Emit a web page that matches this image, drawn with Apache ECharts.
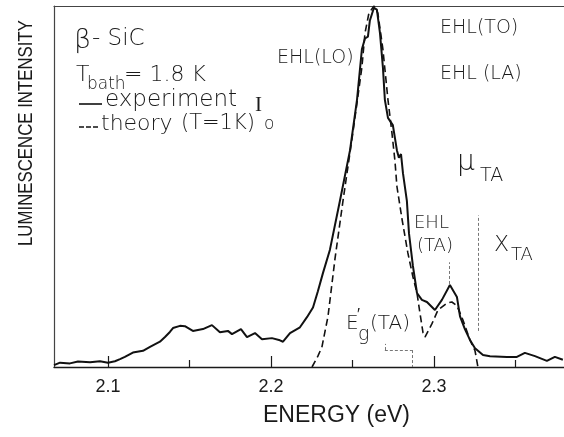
<!DOCTYPE html>
<html>
<head>
<meta charset="utf-8">
<script src="https://cdn.jsdelivr.net/npm/echarts@6/dist/echarts.min.js"></script>
<style>
	html, body { margin: 0; padding: 0; background: #fff; }
	#chart { width: 564px; height: 437px; }
</style>
</head>
<body>
<div id="chart"></div>
<script>
// energy range of the plot (eV)
var xMin = 2.0669;
var xMax = 2.3798;
var majorTicks = [2.1, 2.2, 2.3];
var minorTicks = [2.15, 2.25, 2.35];

// experiment I0, [energy eV, intensity a.u.]
var experiment = [
	[2.0669, 0.5], [2.0706, 1.2], [2.0767, 1.0], [2.0816, 1.5], [2.0890, 1.3],
	[2.0951, 1.6], [2.1000, 1.2], [2.1043, 1.6], [2.1074, 2.2], [2.1104, 2.8],
	[2.1153, 4.0], [2.1215, 4.5], [2.1258, 5.6], [2.1319, 7.0], [2.1350, 8.3],
	[2.1380, 9.7], [2.1399, 10.8], [2.1442, 11.4], [2.1472, 11.3], [2.1521, 10.0],
	[2.1583, 10.5], [2.1638, 11.6], [2.1687, 9.6], [2.1736, 10.0], [2.1761, 9.1],
	[2.1816, 10.5], [2.1853, 8.3], [2.1902, 9.4], [2.1945, 7.7], [2.2006, 8.0],
	[2.2055, 7.4], [2.2074, 7.0], [2.2117, 9.4], [2.2178, 11.0], [2.2221, 13.8],
	[2.2258, 16.5], [2.2288, 21], [2.2319, 26], [2.2362, 32.5], [2.2423, 46],
	[2.2485, 60], [2.2528, 74], [2.2558, 88], [2.2577, 91], [2.2595, 91.5],
	[2.2607, 96], [2.2632, 99.5], [2.2650, 99], [2.2669, 92.5], [2.2687, 83],
	[2.2699, 74], [2.2718, 69], [2.2748, 67], [2.2773, 60], [2.2785, 58],
	[2.2798, 59], [2.2810, 53.7], [2.2834, 46], [2.2847, 37], [2.2871, 28],
	[2.2896, 20.5], [2.2926, 18.6], [2.2957, 18], [2.3006, 15.8], [2.3049, 18.6],
	[2.3098, 22.7], [2.3141, 19.4], [2.3160, 14], [2.3190, 10.5], [2.3221, 7.5],
	[2.3252, 5.2], [2.3301, 3.3], [2.3344, 3.0], [2.3448, 2.8], [2.3509, 2.8],
	[2.3558, 3.9], [2.3620, 3.0], [2.3693, 1.7], [2.3742, 2.8], [2.3791, 2.0]
];

// theory (T = 1 K)
var theory = [
	[2.2252, 0], [2.2288, 3], [2.2313, 5.6], [2.2350, 14], [2.2393, 30],
	[2.2442, 46], [2.2503, 65], [2.2558, 83], [2.2577, 92.5], [2.2601, 98],
	[2.2632, 100], [2.2656, 98], [2.2687, 88], [2.2718, 74], [2.2742, 65],
	[2.2761, 57], [2.2773, 50], [2.2804, 41], [2.2840, 31.6], [2.2871, 25],
	[2.2896, 20.5], [2.2914, 15], [2.2933, 9.5], [2.2945, 8.3], [2.2988, 12],
	[2.3025, 15.8], [2.3080, 17.7], [2.3110, 18], [2.3141, 17], [2.3178, 13],
	[2.3221, 7.5], [2.3252, 4.5], [2.3270, 0]
];

// thin guide lines drawn in the figure
var guides = [
	[[2.3270, 10], [2.3270, 42]],
	[[2.3092, 23], [2.3092, 29]],
	[[2.2699, 4.7], [2.2865, 4.7]],
	[[2.2865, 4.7], [2.2865, 0]],
	[[2.2699, 4.7], [2.2699, 6.4]]
];

var FONT = '"DejaVu Sans", "Liberation Sans", sans-serif';
var SANS = '"Liberation Sans", Arial, sans-serif';
var INK = '#1a1a1a';

function txt(x, y, s, size, family) {
	return {
		type: 'text', x: x, y: y, silent: true,
		style: { text: s, fontSize: size, fontFamily: family || FONT, fontWeight: 200, fill: INK, align: 'left', verticalAlign: 'top' }
	};
}

var myChart = echarts.init(document.getElementById('chart'));

var option = {
	animation: false,
	grid: { left: 54, right: 0, top: 6, bottom: 70 },
	xAxis: [
		{
			type: 'value', min: xMin, max: xMax, position: 'bottom',
			axisLine: { show: true, lineStyle: { color: INK, width: 1.4 } },
			axisTick: { show: true, inside: true, length: 11, customValues: majorTicks, lineStyle: { color: INK, width: 1.2 } },
			axisLabel: {
				customValues: majorTicks, margin: 11, color: INK, fontSize: 18, fontFamily: SANS,
				formatter: function (v) { return v.toFixed(1); }
			},
			splitLine: { show: false }
		},
		{
			type: 'value', min: xMin, max: xMax, position: 'bottom',
			axisLine: { show: false },
			axisTick: { show: true, inside: true, length: 7, customValues: minorTicks, lineStyle: { color: INK, width: 1.2 } },
			axisLabel: { show: false },
			splitLine: { show: false }
		},
		{
			type: 'value', min: xMin, max: xMax, position: 'top',
			axisLine: { show: true, lineStyle: { color: '#444', width: 1.2 } },
			axisTick: { show: false }, axisLabel: { show: false }, splitLine: { show: false }
		}
	],
	yAxis: {
		type: 'value', min: 0, max: 100,
		axisLine: { show: true, lineStyle: { color: '#444', width: 1.2 } },
		axisTick: { show: false }, axisLabel: { show: false }, splitLine: { show: false }
	},
	series: [
		{
			name: 'experiment', type: 'line', data: experiment, showSymbol: false,
			lineStyle: { color: '#111', width: 2 }, z: 3
		},
		{
			name: 'theory', type: 'line', data: theory, showSymbol: false,
			lineStyle: { color: '#111', width: 1.6, type: [7, 4] }, z: 2,
			markLine: {
				silent: true, symbol: 'none', label: { show: false },
				lineStyle: { color: '#777', width: 1, type: [3, 2] },
				data: guides.map(function (g) { return [{ coord: g[0] }, { coord: g[1] }]; })
			}
		}
	],
	graphic: [
		{
			type: 'text', x: 26, y: 246, rotation: Math.PI / 2, scaleX: 0.8, silent: true,
			style: { text: 'LUMINESCENCE INTENSITY', fontSize: 21, fontFamily: SANS, fill: INK, align: 'left', verticalAlign: 'middle' }
		},
		{
			type: 'text', x: 263, y: 404, silent: true,
			style: { text: 'ENERGY (eV)', fontSize: 23, fontFamily: SANS, fill: INK, align: 'left', verticalAlign: 'top' }
		},
		// legend swatches
		{ type: 'line', silent: true, shape: { x1: 79, y1: 104, x2: 102, y2: 104 }, style: { stroke: '#111', lineWidth: 1.6 } },
		{ type: 'line', silent: true, shape: { x1: 79, y1: 127, x2: 98, y2: 127 }, style: { stroke: '#111', lineWidth: 1.6, lineDash: [5, 2] } },
		txt(74, 27, 'β', 27),
		txt(92, 28, '- SiC', 23),
		txt(76, 64, 'T', 22),
		txt(87, 76, 'bath', 17),
		txt(124, 64, '= 1.8 K', 22),
		txt(105, 89, 'experiment', 23),
		txt(255, 95, 'I', 21, '"Liberation Serif", serif'),
		txt(264, 116, 'o', 17),
		txt(101, 113, 'theory', 22),
		txt(181, 113, '(T=1K)', 21),
		txt(277, 49, 'EHL(LO)', 19),
		txt(440, 19, 'EHL(TO)', 19),
		txt(440, 65, 'EHL (LA)', 19),
		txt(457, 149, 'μ', 28),
		txt(480, 167, 'TA', 19),
		txt(414, 214, 'EHL', 18),
		txt(417, 237, '(TA)', 18),
		txt(494, 234, 'X', 22),
		txt(511, 246, 'TA', 18),
		txt(346, 314, 'E', 20),
		txt(357, 308, '′', 16),
		txt(358, 326, 'g', 19),
		txt(370, 314, '(TA)', 20)
	]
};

myChart.setOption(option);
</script>
</body>
</html>
